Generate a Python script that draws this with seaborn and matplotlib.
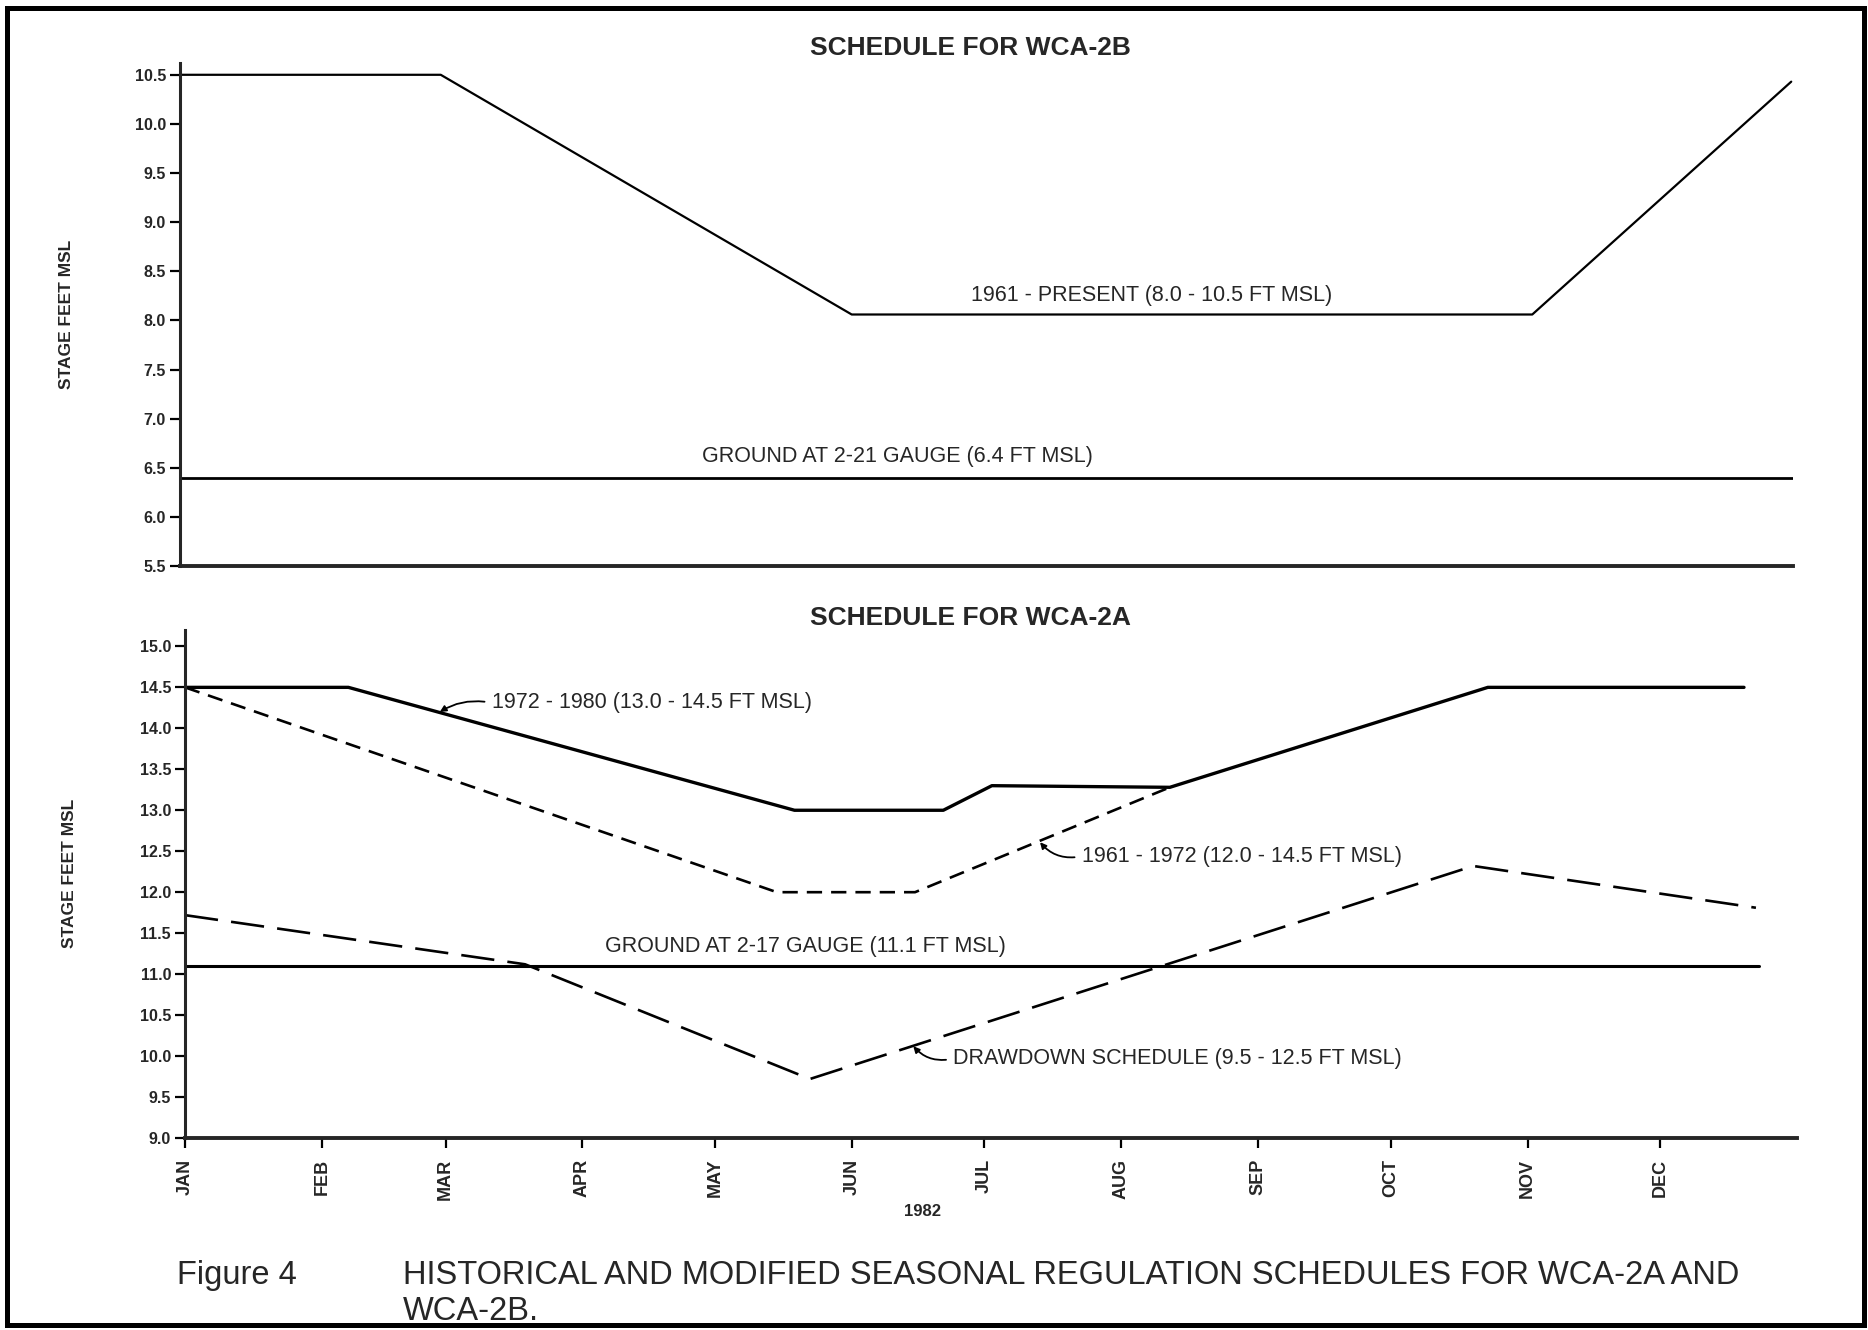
import numpy as np
import seaborn as sns
import matplotlib.pyplot as plt
from matplotlib.patches import Rectangle

# ---- data (day of year 1982, stage in ft MSL) ----
month_days = [0, 31, 59, 90, 120, 151, 181, 212, 243, 273, 304, 334]
month_labels = ['JAN', 'FEB', 'MAR', 'APR', 'MAY', 'JUN',
                'JUL', 'AUG', 'SEP', 'OCT', 'NOV', 'DEC']

# WCA-2B
present_day = [0, 59, 152, 306, 364.6]
present_stage = [10.5, 10.5, 8.06, 8.06, 10.43]
ground_2b_day = [0, 365]
ground_2b_stage = [6.4, 6.4]

# WCA-2A
s7280_day = [0, 37, 138, 171.7, 182.7, 223, 295, 353]
s7280_stage = [14.5, 14.5, 13.0, 13.0, 13.3, 13.28, 14.5, 14.5]
s6172_day = [0, 134, 165.3, 223]
s6172_stage = [14.5, 12.0, 12.0, 13.28]
drawdown_day = [0, 77, 141.5, 291.7, 355.7]
drawdown_stage = [11.72, 11.12, 9.72, 12.32, 11.81]
ground_2a_day = [0, 356.5]
ground_2a_stage = [11.1, 11.1]

top_ticks = [5.5, 6.0, 6.5, 7.0, 7.5, 8.0, 8.5, 9.0, 9.5, 10.0, 10.5]
bot_ticks = [9.0, 9.5, 10.0, 10.5, 11.0, 11.5, 12.0, 12.5, 13.0, 13.5, 14.0, 14.5, 15.0]

sns.set_style('ticks')
plt.rcParams['font.family'] = ['Liberation Sans', 'DejaVu Sans']
plt.rcParams['lines.scale_dashes'] = False

W, H = 1868, 1330
fig = plt.figure(figsize=(W / 100, H / 100), dpi=100)


def px_rect(x0, y0, x1, y1):
    return [x0 / W, 1 - y1 / H, (x1 - x0) / W, (y1 - y0) / H]


ax_top = fig.add_axes(px_rect(180, 63, 1793, 566))
ax_bot = fig.add_axes(px_rect(185, 630, 1797, 1138))

# top panel
sns.lineplot(x=present_day, y=present_stage, ax=ax_top, color='black',
             lw=1.6, estimator=None, sort=False)
sns.lineplot(x=ground_2b_day, y=ground_2b_stage, ax=ax_top, color='black',
             lw=2.0, estimator=None, sort=False)
ax_top.set_xlim(0, 365)
ax_top.set_ylim(5.5, 10.62)
ax_top.set_xticks([])
ax_top.set_yticks(top_ticks)
ax_top.set_yticklabels(['%.1f' % t for t in top_ticks])
ax_top.text(178.9, 8.25, '1961 - PRESENT (8.0 - 10.5 FT MSL)', fontsize=15.5,
            ha='left', va='center')
ax_top.text(118.1, 6.61, 'GROUND AT 2-21 GAUGE (6.4 FT MSL)', fontsize=15.5,
            ha='left', va='center')

# bottom panel
sns.lineplot(x=ground_2a_day, y=ground_2a_stage, ax=ax_bot, color='black',
             lw=2.2, estimator=None, sort=False)
sns.lineplot(x=s6172_day, y=s6172_stage, ax=ax_bot, color='black',
             lw=1.9, linestyle=(0, (11, 6.5)), estimator=None, sort=False)
sns.lineplot(x=drawdown_day, y=drawdown_stage, ax=ax_bot, color='black',
             lw=1.9, linestyle=(0, (24, 9.5)), estimator=None, sort=False)
sns.lineplot(x=s7280_day, y=s7280_stage, ax=ax_bot, color='black',
             lw=2.4, estimator=None, sort=False)
ax_bot.set_xlim(0, 365)
ax_bot.set_ylim(9.0, 15.2)
ax_bot.set_yticks(bot_ticks)
ax_bot.set_yticklabels(['%.1f' % t for t in bot_ticks])
ax_bot.set_xticks(month_days)
ax_bot.set_xticklabels(month_labels, rotation=90, fontsize=13, fontweight='bold')
ax_bot.set_xlabel('1982', fontsize=12, fontweight='bold')
ax_bot.xaxis.set_label_coords(0.4578, -0.13)

arrow = dict(arrowstyle='-|>', color='black', lw=1.3, mutation_scale=9,
             shrinkA=3, shrinkB=0, relpos=(0, 0.5))
ax_bot.annotate('1972 - 1980 (13.0 - 14.5 FT MSL)', xy=(57.7, 14.2),
                xytext=(69.5, 14.31), fontsize=15.5, ha='left', va='center',
                arrowprops=dict(arrow, connectionstyle='arc3,rad=0.2'))
ax_bot.annotate('1961 - 1972 (12.0 - 14.5 FT MSL)', xy=(193.6, 12.61),
                xytext=(203.1, 12.44), fontsize=15.5, ha='left', va='center',
                arrowprops=dict(arrow, connectionstyle='arc3,rad=-0.3'))
ax_bot.annotate('DRAWDOWN SCHEDULE (9.5 - 12.5 FT MSL)', xy=(164.9, 10.12),
                xytext=(174.0, 9.97), fontsize=15.5, ha='left', va='center',
                arrowprops=dict(arrow, connectionstyle='arc3,rad=-0.3'))
ax_bot.text(95.1, 11.34, 'GROUND AT 2-17 GAUGE (11.1 FT MSL)', fontsize=15.5,
            ha='left', va='center')

for ax in (ax_top, ax_bot):
    sns.despine(ax=ax)
    ax.spines['left'].set_linewidth(2.2)
    ax.spines['bottom'].set_linewidth(2.8)
    ax.tick_params(axis='both', direction='out', length=7, width=1.6,
                   color='black', pad=3)
    ax.tick_params(axis='y', labelsize=11.5)
    for lbl in ax.get_yticklabels():
        lbl.set_fontweight('bold')
    ax.set_ylabel('STAGE FEET MSL', fontsize=12.5, fontweight='bold')
ax_bot.tick_params(axis='x', pad=8)
ax_top.yaxis.set_label_coords(-0.066, 0.5)
ax_bot.yaxis.set_label_coords(-0.067, 0.52)

fig.text(970 / W, 1 - 48 / H, 'SCHEDULE FOR WCA-2B', fontsize=19,
         fontweight='heavy', ha='center', va='center')
fig.text(970 / W, 1 - 618 / H, 'SCHEDULE FOR WCA-2A', fontsize=19,
         fontweight='heavy', ha='center', va='center')

fig.text(177 / W, 1 - 1284 / H, 'Figure 4', fontsize=23.5, ha='left',
         va='baseline')
fig.text(403 / W, 1 - 1284 / H,
         'HISTORICAL AND MODIFIED SEASONAL REGULATION SCHEDULES FOR WCA-2A AND',
         fontsize=23.5, ha='left', va='baseline')
fig.text(403 / W, 1 - 1320 / H, 'WCA-2B.', fontsize=23.5, ha='left',
         va='baseline')

fig.patches.append(Rectangle((7 / W, 1 - 1325 / H), (1864 - 7) / W,
                             (1325 - 8) / H, transform=fig.transFigure,
                             fill=False, lw=3.6, ec='black'))

fig.savefig('out.png', dpi=100, facecolor='white')
